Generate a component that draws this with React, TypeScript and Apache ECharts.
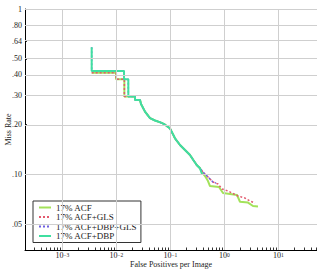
import React, { useEffect, useRef } from "react";
import * as echarts from "echarts";

const FONT = "'Liberation Serif', 'DejaVu Serif', serif";

const seriesNames = ["17% ACF", "17% ACF+GLS", "17% ACF+DBP+GLS", "17% ACF+DBP"];

// x tick labels (powers of ten) and y tick labels
const xTickExponents = [-3, -2, -1, 0, 1];
const yTickValues = [1, 0.8, 0.64, 0.5, 0.4, 0.3, 0.2, 0.1, 0.05];
const yTickLabels = ["1", ".80", ".64", ".50", ".40", ".30", ".20", ".10", ".05"];

// 17% ACF
const acfFppi = [0.0035, 0.0099, 0.0099, 0.0141, 0.0141, 0.0222, 0.0222, 0.0275, 0.0287, 0.034, 0.0421, 0.0521, 0.0693, 0.0798, 0.0987, 0.1222, 0.1512, 0.1872, 0.2316, 0.2666, 0.3083, 0.3548, 0.3864, 0.4391, 0.4991, 0.5435, 0.7979, 0.946, 1.719, 1.953, 2.747, 3.401, 4.208];
const acfMiss = [0.412, 0.412, 0.376, 0.376, 0.296, 0.296, 0.282, 0.282, 0.267, 0.24, 0.219, 0.212, 0.205, 0.2, 0.19, 0.1655, 0.1508, 0.1406, 0.1312, 0.1224, 0.1141, 0.109, 0.103, 0.0979, 0.0913, 0.0852, 0.084, 0.0773, 0.0752, 0.0685, 0.0677, 0.0645, 0.0641];

// 17% ACF+GLS
const glsFppi = [0.0035, 0.0099, 0.0099, 0.0141, 0.0141, 0.0222, 0.0222, 0.0275, 0.0287, 0.034, 0.0421, 0.0521, 0.0693, 0.0798, 0.0987, 0.1222, 0.1512, 0.1872, 0.2316, 0.2666, 0.3083, 0.3548, 0.4034, 0.4991, 0.6176, 0.7645, 0.9066, 1.171, 1.794, 2.417, 2.991, 3.702];
const glsMiss = [0.412, 0.412, 0.376, 0.376, 0.296, 0.296, 0.282, 0.282, 0.267, 0.24, 0.219, 0.212, 0.205, 0.2, 0.19, 0.1655, 0.1508, 0.1406, 0.1312, 0.1224, 0.1141, 0.109, 0.1034, 0.0966, 0.0901, 0.0876, 0.0818, 0.0795, 0.0742, 0.0721, 0.0692, 0.0673];

// 17% ACF+DBP+GLS
const dbpGlsFppi = [0.0035, 0.0035, 0.0139, 0.0139, 0.0167, 0.0167, 0.0222, 0.0222, 0.0275, 0.0287, 0.034, 0.0421, 0.0521, 0.0693, 0.0798, 0.0987, 0.1222, 0.1512, 0.1872, 0.2316, 0.2666, 0.3083, 0.3548, 0.4391, 0.5209, 0.6176, 0.7021];
const dbpGlsMiss = [0.587, 0.422, 0.422, 0.376, 0.376, 0.296, 0.296, 0.282, 0.282, 0.267, 0.24, 0.219, 0.212, 0.205, 0.2, 0.19, 0.1655, 0.1508, 0.1406, 0.1312, 0.1224, 0.1141, 0.109, 0.1007, 0.0953, 0.0901, 0.0888];

// 17% ACF+DBP
const dbpFppi = [0.0035, 0.0035, 0.0139, 0.0139, 0.0167, 0.0167, 0.0222, 0.0222, 0.0275, 0.0287, 0.034, 0.0421, 0.0521, 0.0693, 0.0798, 0.0987, 0.1222, 0.1512, 0.1872, 0.2316, 0.2666, 0.3083, 0.3548, 0.3864];
const dbpMiss = [0.587, 0.422, 0.422, 0.376, 0.376, 0.296, 0.296, 0.282, 0.282, 0.267, 0.24, 0.219, 0.212, 0.205, 0.2, 0.19, 0.1655, 0.1508, 0.1406, 0.1312, 0.1224, 0.1141, 0.109, 0.1007];

// axis extents (log10 space)
const X_MIN = -3.6907;
const X_MAX = 1.7167;
const Y_MIN = -1.456;
const Y_MAX = 0;

const toLog = (xs: number[], ys: number[]) => xs.map((x, i) => [Math.log10(x), Math.log10(ys[i])]);

export default function App() {
  const ref = useRef<HTMLDivElement>(null);
  useEffect(() => {
    if (!ref.current) return;
    const chart = echarts.init(ref.current, undefined, { renderer: "svg" });

    const minorTicks: number[] = [];
    for (let d = -4; d <= 1; d++) {
      for (let k = 1; k <= 9; k++) {
        const v = Math.log10(k * Math.pow(10, d));
        if (v >= X_MIN && v <= X_MAX) minorTicks.push(v);
      }
    }
    const yLogTicks = yTickValues.map((v) => Math.log10(v));

    const gridLines: any[] = [
      ...xTickExponents.map((e) => ({ xAxis: e })),
      ...yLogTicks.map((v) => ({ yAxis: v })),
    ];

    const colors = {
      acf: "#a3e25a",
      gls: "#e25a6e",
      dbpGls: "#6e5fe0",
      dbp: "#3fdfa0",
    };

    const option: any = {
      animation: false,
      grid: { left: 25, right: 0, top: 9, bottom: 19, containLabel: false, outerBoundsMode: "none" },
      legend: {
        data: seriesNames,
        orient: "vertical",
        left: 33,
        top: 201,
        itemWidth: 12,
        itemHeight: 8,
        itemGap: 0.5,
        padding: [2, 4, 2, 5],
        borderColor: "#333",
        borderWidth: 1,
        backgroundColor: "#fff",
        itemStyle: { opacity: 0 },
        textStyle: { fontFamily: FONT, fontSize: 9, lineHeight: 9, color: "#222" },
      },
      xAxis: {
        type: "value",
        min: X_MIN,
        max: X_MAX,
        axisLine: { show: true, onZero: false, lineStyle: { color: "#000", width: 1 } },
        axisTick: { show: true, inside: true, length: 2.5, customValues: minorTicks, lineStyle: { color: "#000", width: 0.8 } },
        axisLabel: {
          customValues: xTickExponents,
          margin: 2,
          formatter: (v: number) => {
            const e = Math.round(v);
            const s = e < 0 ? "\u2212" + Math.abs(e) : String(e);
            return "{b|10}{s|" + s + "}";
          },
          rich: {
            b: { fontFamily: FONT, fontSize: 8, color: "#222", lineHeight: 7, verticalAlign: "bottom" },
            s: { fontFamily: FONT, fontSize: 5.5, color: "#222", lineHeight: 7, verticalAlign: "top" },
          },
        },
        splitLine: { show: false },
        name: "False Positives per Image",
        nameLocation: "middle",
        nameGap: 10,
        nameMoveOverlap: false,
        nameTextStyle: { fontFamily: FONT, fontSize: 8, lineHeight: 8, color: "#222" },
      },
      yAxis: {
        type: "value",
        min: Y_MIN,
        max: Y_MAX,
        axisLine: { show: true, onZero: false, lineStyle: { color: "#000", width: 1 } },
        axisTick: { show: true, inside: true, length: 2, customValues: yLogTicks, lineStyle: { color: "#000", width: 0.8 } },
        axisLabel: {
          customValues: yLogTicks,
          margin: 3,
          fontFamily: FONT,
          fontSize: 8,
          color: "#222",
          formatter: (v: number) => {
            const i = yLogTicks.findIndex((t) => Math.abs(t - v) < 1e-6);
            return i >= 0 ? yTickLabels[i] : "";
          },
        },
        splitLine: { show: false },
        name: "Miss Rate",
        nameLocation: "middle",
        nameGap: 13,
        nameMoveOverlap: false,
        nameTextStyle: { fontFamily: FONT, fontSize: 8, color: "#222" },
      },
      series: [
        {
          name: "grid",
          type: "line",
          data: [[X_MIN - 1, Y_MIN - 1]],
          symbol: "none",
          z: 1,
          silent: true,
          markLine: {
            silent: true,
            symbol: ["none", "none"],
            label: { show: false },
            lineStyle: { color: "#cfcfcf", width: 1, type: "solid" },
            emphasis: { disabled: true },
            data: gridLines,
          },
        },
        {
          name: seriesNames[0],
          type: "line",
          data: toLog(acfFppi, acfMiss),
          symbol: "none",
          z: 2,
          lineStyle: { color: colors.acf, width: 2 },
          itemStyle: { color: colors.acf },
        },
        {
          name: seriesNames[1],
          type: "line",
          data: toLog(glsFppi, glsMiss),
          symbol: "none",
          z: 3,
          lineStyle: { color: colors.gls, width: 1.5, type: [2, 2] },
          itemStyle: { color: colors.gls },
        },
        {
          name: seriesNames[2],
          type: "line",
          data: toLog(dbpGlsFppi, dbpGlsMiss),
          symbol: "none",
          z: 3,
          lineStyle: { color: colors.dbpGls, width: 1.5, type: [2, 2] },
          itemStyle: { color: colors.dbpGls },
        },
        {
          name: seriesNames[3],
          type: "line",
          data: toLog(dbpFppi, dbpMiss),
          symbol: "none",
          z: 4,
          lineStyle: { color: colors.dbp, width: 2 },
          itemStyle: { color: colors.dbp },
        },
      ],
    };
    chart.setOption(option);
    return () => chart.dispose();
  }, []);
  return <div ref={ref} style={{ position: "fixed", left: 0, top: 0, width: 317, height: 269, background: "#fff" }} />;
}
